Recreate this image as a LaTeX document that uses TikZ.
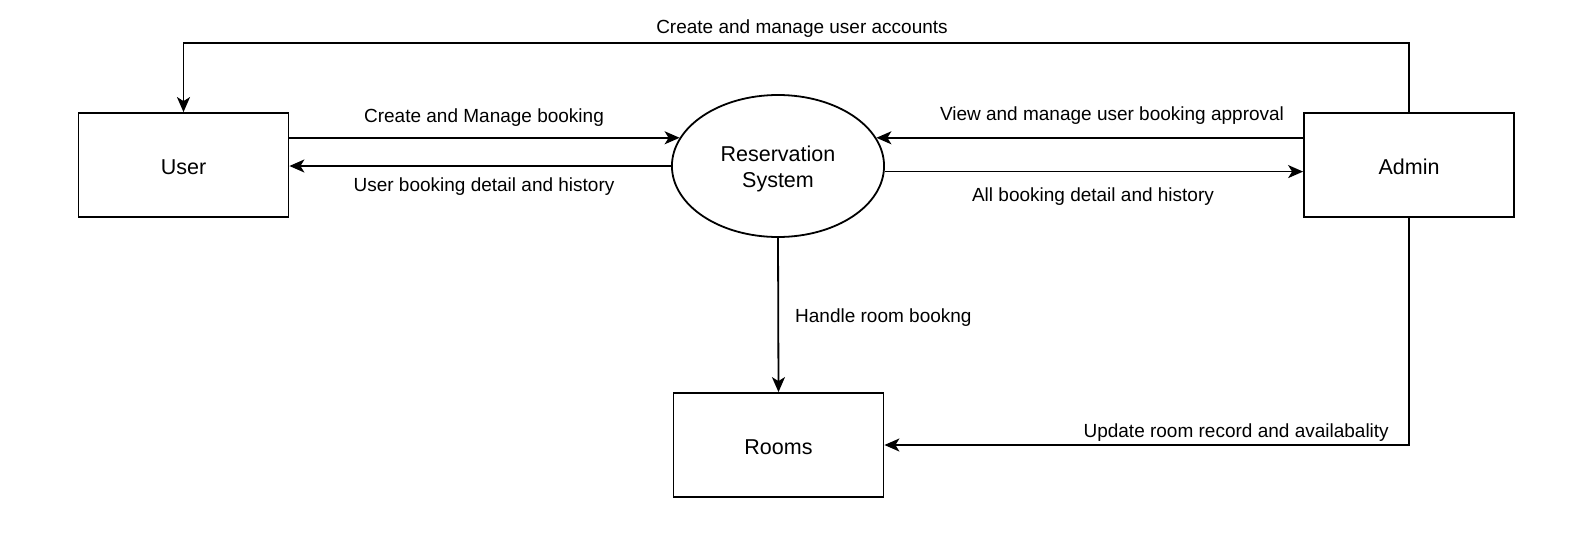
\documentclass[tikz,border=0pt]{standalone}
\usepackage{fontspec}
\setmainfont{Liberation Sans}
\usetikzlibrary{arrows.meta,shapes.geometric}
\begin{document}
\begin{tikzpicture}[x=1pt,y=-1pt,
  every node/.style={font=\fontsize{19}{26}\selectfont},
  entity/.style={draw,line width=1.8pt,minimum width=210pt,minimum height=104pt,inner sep=0pt,font=\fontsize{21.5}{27}\selectfont},
  proc/.style={draw,ellipse,line width=1.8pt,minimum width=209pt,minimum height=142pt,inner sep=0pt,align=center,font=\fontsize{21.5}{26.5}\selectfont},
  arr/.style={line width=1.8pt,-{Stealth[length=15pt,width=13pt,inset=4pt]}},
  lbl/.style={inner sep=0pt}]
\useasboundingbox (0,0) rectangle (1593,549);
\node[entity] (user) at (183.5,165) {\raisebox{-9.7pt}[0pt][0pt]{User}};
\node[entity] (admin) at (1409,165) {\raisebox{-9.7pt}[0pt][0pt]{Admin}};
\node[entity] (rooms) at (778.5,445) {\raisebox{-9.7pt}[0pt][0pt]{Rooms}};
\node[proc] (res) at (778,166) {\raisebox{-8pt}[0pt][0pt]{\parbox{150pt}{\centering Reservation\\System}}};
\coordinate (tl) at (183.5,43);
\coordinate (tr) at (1409,43);
\coordinate (br) at (1409,445);
% top loop
\draw[arr] (admin.north) -- (tr) -- (tl) -- (user.north);
\node[lbl] (l1) at (802,29) {Create and manage user accounts};
% user <-> res
\draw[arr] (user.east |- res.164) -- (res.164);
\node[lbl] (l2) at (484,118) {Create and Manage booking};
\draw[arr] (res.west) -- (user.east |- res.west);
\node[lbl] (l3) at (484,187) {User booking detail and history};
% admin <-> res
\draw[arr] (admin.west |- res.16) -- (res.16);
\node[lbl] (l4) at (1112,116) {View and manage user booking approval};
\draw[arr] (res.-3.8) -- (admin.west |- res.-3.8);
\node[lbl] (l5) at (1093,197) {All booking detail and history};
% res -> rooms
\draw[arr] (res.south) -- (rooms.north);
\node[lbl,anchor=west] (l6) at (795,318) {Handle room bookng};
% admin -> rooms
\draw[arr] (admin.south) -- (br) -- (rooms.east);
\node[lbl,anchor=east] (l7) at (1389,433) {Update room record and availabality};
\end{tikzpicture}
\end{document}
